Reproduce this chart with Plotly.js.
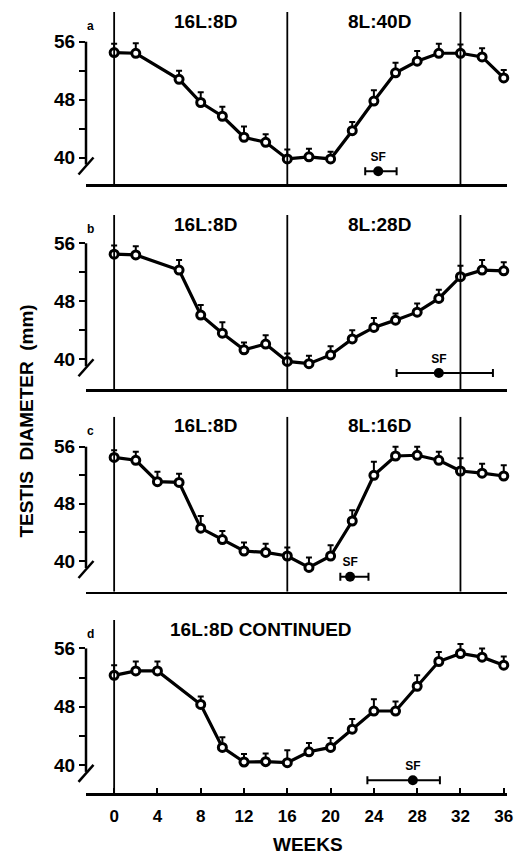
<!DOCTYPE html>
<html><head><meta charset="utf-8">
<script src="https://cdn.plot.ly/plotly-3.0.1.min.js"></script>
<style>html,body{margin:0;padding:0;background:#fff}</style>
</head><body><div id="chart" style="width:515px;height:854px"></div>
<script>
// ---- data ----
const weeksA = [0,2,6,8,10,12,14,16,18,20,22,24,26,28,30,32,34,36];
const diamA  = [54.5,54.4,50.8,47.6,45.7,42.8,42.1,39.8,40.1,39.8,43.7,47.8,51.7,53.3,54.4,54.4,53.9,51.0];
const errA   = [1.2,1.4,1.2,1.4,1.3,1.5,1.1,1.3,1.1,1.0,1.2,1.5,1.4,1.4,1.3,1.2,1.2,1.1];

const weeksB = [0,2,6,8,10,12,14,16,18,20,22,24,26,28,30,32,34,36];
const diamB  = [54.5,54.4,52.3,46.1,43.6,41.3,42.1,39.7,39.4,40.6,42.8,44.4,45.4,46.5,48.4,51.4,52.3,52.2];
const errB   = [1.2,1.2,1.4,1.4,1.5,1.0,1.2,1.1,1.1,1.2,1.2,1.3,0.9,1.2,1.2,1.5,1.4,1.2];

const weeksC = [0,2,4,6,8,10,12,14,16,18,20,22,24,26,28,30,32,34,36];
const diamC  = [54.5,54.1,51.1,51.0,44.6,43.0,41.4,41.2,40.7,39.1,40.7,45.6,52.0,54.7,54.8,54.1,52.6,52.3,51.9];
const errC   = [1.0,1.2,1.4,1.2,1.7,1.2,1.2,1.2,1.2,1.4,1.5,1.5,1.9,1.3,1.2,1.2,1.8,1.3,1.5];

const weeksD = [0,2,4,8,10,12,14,16,18,20,22,24,26,28,30,32,34,36];
const diamD  = [52.3,52.9,52.9,48.3,42.4,40.4,40.45,40.3,41.8,42.4,44.9,47.4,47.4,50.8,54.2,55.3,54.8,53.7];
const errD   = [1.4,1.3,1.3,1.1,1.4,1.1,1.1,1.7,1.2,1.3,1.4,1.6,1.3,1.5,1.3,1.3,1.2,1.2];

const sfWeek  = [24.4, 30.0, 21.8, 27.6];
const sfLevel = [38.1, 38.1, 37.8, 37.9];
const sfPlus  = [1.7, 5.0, 1.7, 2.5];
const sfMinus = [1.2, 3.9, 0.9, 4.2];

const panelLetters = ['a','b','c','d'];
const leftLabels  = ['16L:8D','16L:8D','16L:8D','16L:8D CONTINUED'];
const rightLabels = ['8L:40D','8L:28D','8L:16D',''];
const dividers = [[0,16,32],[0,16,32],[0,16,32],[0]];
const xTicks = [0,4,8,12,16,20,24,28,32,36];
const yTickVals = [40,44,48,52,56];
const yTickText = ['40','','48','','56'];

// ---- layout geometry ----
const W = 515, H = 854, ML = 85.5, MR = 7.75;
const PW = W - ML - MR;
const XR = [-2.6, 36.3];
const panels = [
  {top:12,    bot:184.3, r:[36.3,60.1]},
  {top:215,   bot:389.3, r:[35.86,59.9]},
  {top:416.7, bot:591.7, r:[35.7,60.2]},
  {top:620,   bot:793.3, r:[36.1,59.9]}
];
const px2x = px => (px - ML) / PW;
const py2y = py => 1 - py / H;
const val2py = (v, p) => p.top + (p.r[1] - v) / (p.r[1] - p.r[0]) * (p.bot - p.top);

const series = [[weeksA,diamA,errA],[weeksB,diamB,errB],[weeksC,diamC,errC],[weeksD,diamD,errD]];
const FONT = 'Liberation Sans, Arial, sans-serif';

const traces = [];
const layout = {
  width: W, height: H,
  margin: {l: ML, r: MR, t: 0, b: 0},
  paper_bgcolor: '#fff', plot_bgcolor: 'rgba(0,0,0,0)',
  showlegend: false,
  shapes: [], annotations: []
};

panels.forEach((p, i) => {
  const n = i === 0 ? '' : String(i + 1);
  const xa = 'x' + n, ya = 'y' + n;
  const [wk, dm, er] = series[i];
  traces.push({
    x: wk, y: dm, xaxis: xa, yaxis: ya, type: 'scatter', mode: 'lines+markers',
    line: {color: '#000', width: 3.2},
    marker: {symbol: 'circle', size: 8, color: '#fff', line: {color: '#000', width: 3}},
    error_y: {type: 'data', symmetric: false, array: er, arrayminus: er.map(() => 0),
              color: '#000', thickness: 2, width: 3},
    cliponaxis: false, hoverinfo: 'skip'
  });
  traces.push({
    x: [sfWeek[i]], y: [sfLevel[i]], xaxis: xa, yaxis: ya, type: 'scatter', mode: 'markers+text',
    text: ['SF'], textposition: 'top center',
    textfont: {family: FONT, size: 12, color: '#000', weight: 'bold'},
    marker: {symbol: 'circle', size: 10, color: '#000'},
    error_x: {type: 'data', symmetric: false, array: [sfPlus[i]], arrayminus: [sfMinus[i]],
              color: '#000', thickness: 2, width: 4},
    cliponaxis: false, hoverinfo: 'skip'
  });

  layout['xaxis' + n] = {
    domain: [0, 1], anchor: ya, range: XR, fixedrange: true,
    showgrid: false, zeroline: false, showline: true, linecolor: '#000', linewidth: 2.5,
    ticks: i === 3 ? 'inside' : '', ticklen: 5, tickwidth: 2, tickcolor: '#000',
    tickvals: xTicks, showticklabels: i === 3, ticklabelstandoff: 6,
    ticklabeloverflow: 'allow',
    tickfont: {family: FONT, size: 17, color: '#000', weight: 'bold'}
  };
  layout['yaxis' + n] = {
    domain: [py2y(p.bot), py2y(p.top)], anchor: xa, range: p.r, fixedrange: true,
    showgrid: false, zeroline: false, showline: false,
    ticks: 'outside', ticklen: 6, tickwidth: 2, tickcolor: '#000',
    tickvals: yTickVals, ticktext: yTickText,
    tickfont: {family: FONT, size: 19, color: '#000', weight: 'bold'}
  };

  // y axis line with break
  const y56 = val2py(56, p), y40 = val2py(40, p);
  layout.shapes.push({type: 'line', xref: 'paper', yref: 'paper',
    x0: 0, x1: 0, y0: py2y(y56), y1: py2y(y40 + 7), line: {color: '#000', width: 2.5}});
  layout.shapes.push({type: 'line', xref: 'paper', yref: 'paper',
    x0: px2x(ML + 7.5), y0: py2y(y40 + 0), x1: px2x(ML - 7.5), y1: py2y(y40 + 17),
    line: {color: '#000', width: 2.5}});

  // photoperiod dividers
  dividers[i].forEach(w => {
    layout.shapes.push({type: 'line', xref: xa, yref: ya, x0: w, x1: w, y0: p.r[0], y1: p.r[1],
      line: {color: '#000', width: 1.8}});
  });

  // panel letter
  layout.annotations.push({xref: 'paper', yref: 'paper', x: px2x(90), y: py2y(p.top + 14),
    text: panelLetters[i], showarrow: false, xanchor: 'center', yanchor: 'middle',
    font: {family: FONT, size: 12, color: '#000', weight: 'bold'}});
  // period labels
  const lx = i === 3 ? 261 : 205;
  layout.annotations.push({xref: 'paper', yref: 'paper', x: px2x(lx), y: py2y(p.top + 9),
    text: leftLabels[i], showarrow: false, xanchor: 'center', yanchor: 'middle',
    font: {family: FONT, size: 19, color: '#000', weight: 'bold'}});
  if (rightLabels[i]) {
    layout.annotations.push({xref: 'paper', yref: 'paper', x: px2x(380), y: py2y(p.top + 9),
      text: rightLabels[i], showarrow: false, xanchor: 'center', yanchor: 'middle',
      font: {family: FONT, size: 19, color: '#000', weight: 'bold'}});
  }
});

// axis titles
layout.annotations.push({xref: 'paper', yref: 'paper', x: px2x(308), y: py2y(844),
  text: 'WEEKS', showarrow: false, xanchor: 'center', yanchor: 'middle',
  font: {family: FONT, size: 19, color: '#000', weight: 'bold'}});
layout.annotations.push({xref: 'paper', yref: 'paper', x: px2x(25), y: py2y(421),
  text: 'TESTIS\u00a0 DIAMETER\u00a0 (mm)', textangle: -90, showarrow: false,
  xanchor: 'center', yanchor: 'middle',
  font: {family: FONT, size: 19, color: '#000', weight: 'bold'}});

Plotly.newPlot('chart', traces, layout, {displayModeBar: false, staticPlot: true});
</script>
</body></html>
